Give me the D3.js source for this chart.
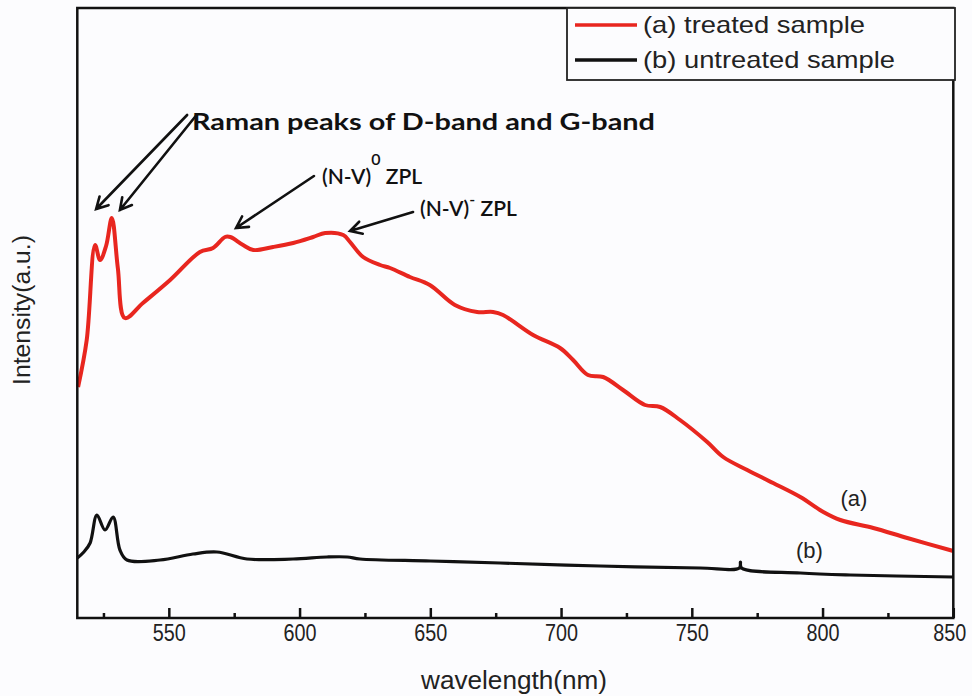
<!DOCTYPE html>
<html><head><meta charset="utf-8">
<script src="https://cdn.jsdelivr.net/npm/d3@7"></script>
<style>body{margin:0;background:#fcfcfe;} svg{display:block}</style>
</head><body><svg id="c" width="972" height="696"></svg>
<script>
// ---- data ----
const wavelengthTreated = [515.3,518.6,521.8,523.7,526,528.2,530.5,533.2,540.1,550.5,561.9,566.9,571.5,573.5,578.4,582.3,589.9,597.6,605.2,609.8,616.7,619.3,624.3,630.8,634.6,642.2,649.8,659.4,667.9,674.0,677.8,689.3,699.6,704.6,710.3,716.1,723.7,732.1,737.9,745.5,755.9,762.0,771.2,781.1,791.5,800.3,806.8,819.4,832.4,850];
const intensityTreated  = [231,278,373,358,372,400,350,300,315,338,366,370,381,381,373,368,371,375,381,385,383,376,361,353,350,341,333,313,306,306,303,283,270,258,243,241,228,213,211,198,176,161,148,135,121,106,98,90,80,67];
const wavelengthUntreated = [515,517.5,519.9,522.5,525.6,528.7,531.3,534,546.6,559.2,568.4,579.9,597.5,610.5,618.2,623.1,650,676.7,714.9,753.2,768.2,768.6,769.0,791.5,810.6,850];
const intensityUntreated  = [60,66,75,103,88,101,68,58,58,64,66,59,59,61,61,59,57,55,52,50,50,56,50,45,43,41];
const xTicks = [550,600,650,700,750,800,850];
const xMinorTicks = [525,575,625,675,725,775,825];
const seriesNames = ["(a) treated sample","(b) untreated sample"];
const seriesColors = ["#e8261f","#111111"];
const curveLabels = ["(a)","(b)"];

// ---- layout ----
const svg = d3.select("#c");
const L = 77.3, R = 953.3, T = 8, B = 618;
const x = d3.scaleLinear().domain([515,850]).range([L,R]);
const y = d3.scaleLinear().domain([0,610]).range([B,T]);

svg.append("rect").attr("width",972).attr("height",696).attr("fill","#fcfcfe");

const line = d3.line().x(d=>x(d[0])).y(d=>y(d[1])).curve(d3.curveCatmullRom.alpha(0.5));
const treated = wavelengthTreated.map((w,i)=>[w,intensityTreated[i]]);
const untreated = wavelengthUntreated.map((w,i)=>[w,intensityUntreated[i]]);

svg.append("path").datum(untreated).attr("d",line).attr("fill","none")
  .attr("stroke",seriesColors[1]).attr("stroke-width",3.2).attr("stroke-linejoin","round");
svg.append("path").datum(treated).attr("d",line).attr("fill","none")
  .attr("stroke",seriesColors[0]).attr("stroke-width",4).attr("stroke-linejoin","round");

// axes
const gx = svg.append("g").attr("transform",`translate(0,${B})`)
  .call(d3.axisBottom(x).tickValues(xTicks).tickSizeInner(-10).tickSizeOuter(0).tickPadding(7).tickFormat(d3.format("d")));
gx.select(".domain").remove();
gx.selectAll(".tick line").attr("stroke","#111").attr("stroke-width",2.5);
gx.selectAll(".tick text").attr("font-family","Liberation Sans, Arial, sans-serif")
  .attr("font-size",23).attr("fill","#222").attr("textLength",33).attr("lengthAdjust","spacingAndGlyphs")
  .attr("dx",(d,i,n)=> i===n.length-1 ? -4 : 0);
const gm = svg.append("g").attr("transform",`translate(0,${B})`)
  .call(d3.axisBottom(x).tickValues(xMinorTicks).tickSizeInner(-5).tickSizeOuter(0).tickFormat(""));
gm.select(".domain").remove();
gm.selectAll(".tick line").attr("stroke","#111").attr("stroke-width",2.5);

// frame
svg.append("rect").attr("x",L).attr("y",T).attr("width",R-L).attr("height",B-T)
  .attr("fill","none").attr("stroke","#111").attr("stroke-width",2.5);

// axis titles
svg.append("text").attr("x",514).attr("y",689).attr("text-anchor","middle")
  .attr("font-family","Liberation Sans, Arial, sans-serif").attr("font-size",25).attr("fill","#222")
  .attr("textLength",186).attr("lengthAdjust","spacingAndGlyphs").text("wavelength(nm)");
svg.append("text").attr("transform","translate(30,310) rotate(-90)").attr("text-anchor","middle")
  .attr("font-family","Liberation Sans, Arial, sans-serif").attr("font-size",23).attr("fill","#222")
  .attr("textLength",150).attr("lengthAdjust","spacingAndGlyphs").text("Intensity(a.u.)");

// legend
const lg = svg.append("g");
lg.append("rect").attr("x",567).attr("y",T).attr("width",388).attr("height",72)
  .attr("fill","#fcfcfe").attr("stroke","#222").attr("stroke-width",1.8);
const legW = [222,252];
seriesNames.forEach((n,i)=>{
  const yy = 25 + i*35;
  lg.append("line").attr("x1",575).attr("x2",637).attr("y1",yy).attr("y2",yy)
    .attr("stroke",seriesColors[i]).attr("stroke-width",3.5);
  lg.append("text").attr("x",643).attr("y",yy+8).attr("font-family","Liberation Sans, Arial, sans-serif")
    .attr("font-size",24).attr("fill","#222").attr("textLength",legW[i]).attr("lengthAdjust","spacingAndGlyphs").text(n);
});

// curve labels
svg.append("text").attr("x",x(812)).attr("y",y(112)).attr("text-anchor","middle")
  .attr("font-family","Liberation Sans, Arial, sans-serif").attr("font-size",22).attr("fill","#222").text(curveLabels[0]);
svg.append("text").attr("x",x(795)).attr("y",y(60)).attr("text-anchor","middle")
  .attr("font-family","Liberation Sans, Arial, sans-serif").attr("font-size",22).attr("fill","#222").text(curveLabels[1]);

// annotations: arrows in data units [from, to]
const arrows = [
  [[557.0,503],[522.2,409]],
  [[560.6,503],[531.3,408]],
  [[605.5,442],[575.7,390]],
  [[643.4,406],[619.3,387]]
];
arrows.forEach(a=>{
  const x1=x(a[0][0]), y1=y(a[0][1]), x2=x(a[1][0]), y2=y(a[1][1]);
  const ang = Math.atan2(y2-y1,x2-x1), h=13, s=0.5;
  const p = `M${x1},${y1}L${x2},${y2}M${x2-h*Math.cos(ang-s)},${y2-h*Math.sin(ang-s)}L${x2},${y2}L${x2-h*Math.cos(ang+s)},${y2-h*Math.sin(ang+s)}`;
  svg.append("path").attr("d",p).attr("fill","none").attr("stroke","#111").attr("stroke-width",2.6)
    .attr("stroke-linecap","round").attr("stroke-linejoin","miter");
});
svg.append("text").attr("x",192).attr("y",130).attr("font-family","Lato, Open Sans, sans-serif")
  .attr("font-weight",700).attr("font-size",22).attr("fill","#111")
  .attr("textLength",463).attr("lengthAdjust","spacingAndGlyphs").text("Raman peaks of D-band and G-band");
const t1 = svg.append("text").attr("x",322).attr("y",184).attr("font-family","Lato, Open Sans, sans-serif")
  .attr("font-size",21).attr("font-weight",600).attr("fill","#111");
t1.append("tspan").text("(N-V)");
t1.append("tspan").attr("dy",-19).attr("font-size",16).text("0");
t1.append("tspan").attr("dy",19).text(" ZPL");
const t2 = svg.append("text").attr("x",420).attr("y",216).attr("font-family","Lato, Open Sans, sans-serif")
  .attr("font-size",21).attr("font-weight",600).attr("fill","#111");
t2.append("tspan").text("(N-V)");
t2.append("tspan").attr("dy",-11).attr("font-size",16).text("-");
t2.append("tspan").attr("dy",11).text(" ZPL");
</script></body></html>
